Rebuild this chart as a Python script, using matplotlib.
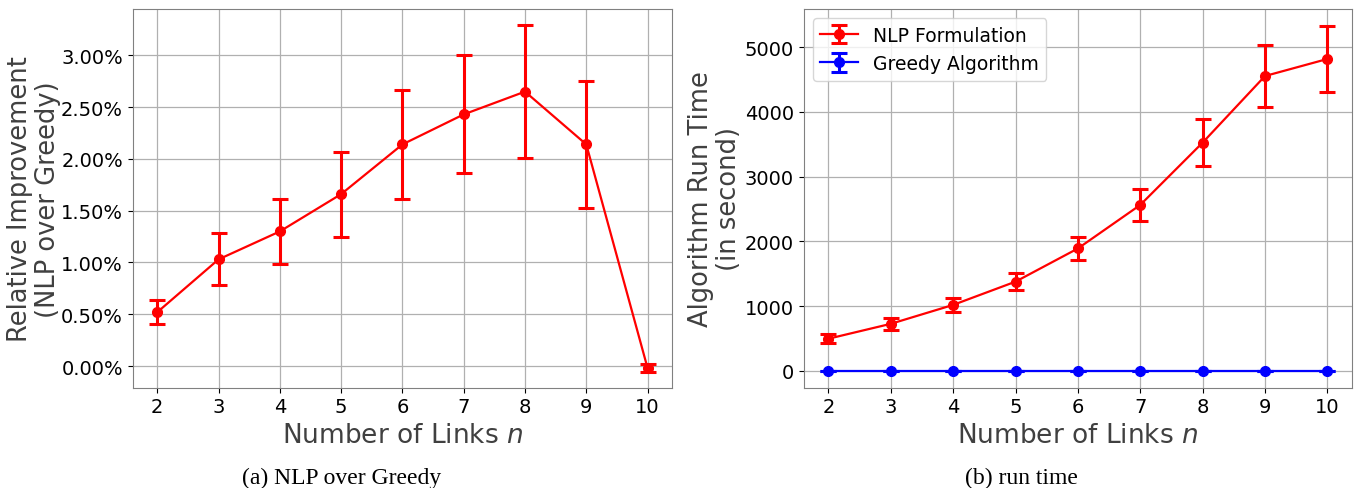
import matplotlib
matplotlib.use("Agg")
import matplotlib.pyplot as plt
from matplotlib.ticker import PercentFormatter, MultipleLocator

plt.rcParams["mathtext.fontset"] = "dejavusans"

# number of links
links = [2, 3, 4, 5, 6, 7, 8, 9, 10]

# (a) relative improvement of NLP over greedy, in percent
improve = [0.52, 1.03, 1.30, 1.66, 2.14, 2.43, 2.65, 2.14, -0.02]
improve_err = [0.115, 0.25, 0.31, 0.41, 0.53, 0.57, 0.64, 0.61, 0.035]

# (b) run time in seconds
nlp_time = [497, 727, 1019, 1378, 1890, 2562, 3524, 4552, 4815]
nlp_err = [70, 90, 103, 134, 183, 247, 360, 473, 510]
greedy_time = [2, 2, 2, 2, 2, 2, 2, 2, 2]
greedy_err = [1, 1, 1, 1, 1, 1, 1, 1, 1]

fig = plt.figure(figsize=(13.55, 4.89), dpi=100)
ax1 = fig.add_axes([0.098, 0.205, 0.398, 0.775])
ax2 = fig.add_axes([0.593, 0.205, 0.405, 0.775])

ebar_kw = dict(marker="o", markersize=7, linewidth=1.6, elinewidth=2.2,
               capsize=6, capthick=2.2)

ax1.errorbar(links, improve, yerr=improve_err, color="red", **ebar_kw)
ax1.set_ylim(-0.21, 3.45)
ax1.yaxis.set_major_locator(MultipleLocator(0.5))
ax1.yaxis.set_major_formatter(PercentFormatter(xmax=100, decimals=2))
ax1.set_ylabel("Relative Improvement\n(NLP over Greedy)", fontsize=18.5,
               color="#404040", linespacing=1.1, labelpad=0)

ax2.errorbar(links, nlp_time, yerr=nlp_err, color="red",
             label="NLP Formulation", **ebar_kw)
ax2.errorbar(links, greedy_time, yerr=greedy_err, color="blue",
             label="Greedy Algorithm", **ebar_kw)
ax2.set_ylim(-260, 5590)
ax2.yaxis.set_major_locator(MultipleLocator(1000))
ax2.set_ylabel("Algorithm Run Time\n(in second)", fontsize=18.5,
               color="#404040", linespacing=1.1, labelpad=2)
ax2.legend(loc="upper left", fontsize=13.5, framealpha=0.8)

for ax in (ax1, ax2):
    ax.set_xticks(links)
    ax.set_xlabel("Number of Links $n$", fontsize=19, color="#404040")
    ax.tick_params(labelsize=14)
    ax.grid(True, color="#b0b0b0", linewidth=0.9)
    ax.set_axisbelow(True)
    for s in ax.spines.values():
        s.set_color("#808080")

fig.text(0.252, 0.01, "(a) NLP over Greedy", family="Liberation Serif",
         fontsize=17, ha="center")
fig.text(0.754, 0.01, "(b) run time", family="Liberation Serif",
         fontsize=17, ha="center")

fig.savefig("out.png", dpi=100)
